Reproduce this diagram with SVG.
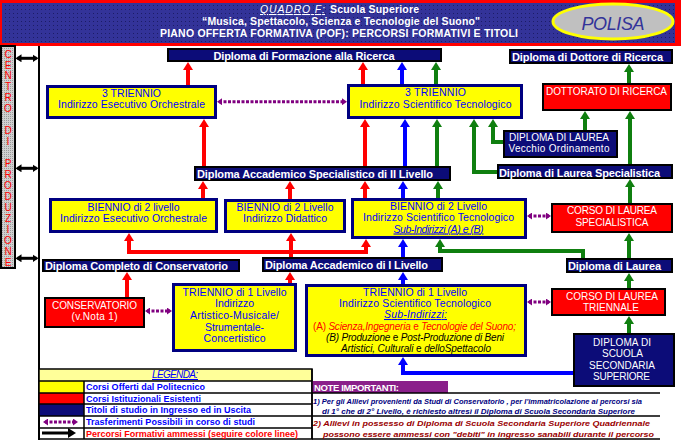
<svg xmlns="http://www.w3.org/2000/svg" width="681" height="441" viewBox="0 0 681 441">
<defs>
<pattern id="hdots" width="4" height="4" patternUnits="userSpaceOnUse"><rect width="4" height="4" fill="#333399"/><rect x="1" y="1" width="1" height="1" fill="#1c1c66"/></pattern>
<pattern id="gdots" width="2" height="2" patternUnits="userSpaceOnUse"><rect width="2" height="2" fill="#d0d0d0"/><rect width="1" height="1" fill="#9a9a9a"/></pattern>
<marker id="aR" viewBox="0 0 8 10" refX="2" refY="5" markerWidth="8" markerHeight="10" markerUnits="userSpaceOnUse" orient="auto"><path d="M0,0L8,5L0,10z" fill="#f00"/></marker>
<marker id="aB" viewBox="0 0 8 10" refX="2" refY="5" markerWidth="8" markerHeight="10" markerUnits="userSpaceOnUse" orient="auto"><path d="M0,0L8,5L0,10z" fill="#00f"/></marker>
<marker id="aG" viewBox="0 0 8 10" refX="2" refY="5" markerWidth="8" markerHeight="10" markerUnits="userSpaceOnUse" orient="auto"><path d="M0,0L8,5L0,10z" fill="#0f7f0f"/></marker>
<marker id="aKL" viewBox="0 0 8 10" refX="2" refY="5" markerWidth="8" markerHeight="10" markerUnits="userSpaceOnUse" orient="auto"><path d="M0,0L8,5L0,10z" fill="#000"/></marker>
<marker id="aK" viewBox="0 0 6 8" refX="4" refY="4" markerWidth="6" markerHeight="8" markerUnits="userSpaceOnUse" orient="auto-start-reverse"><path d="M0,0L6,4L0,8z" fill="#000"/></marker>
<marker id="aP" viewBox="0 0 5 7" refX="3" refY="3.5" markerWidth="5" markerHeight="7" markerUnits="userSpaceOnUse" orient="auto-start-reverse"><path d="M0,0L5,3.5L0,7z" fill="#800080"/></marker>
</defs>
<style>
text{font-family:"Liberation Sans",Arial,sans-serif}
.nv{fill:#0c0c78;stroke:#000;stroke-width:2}
.yl{fill:#ff0;stroke:#000080;stroke-width:3}
.rd{fill:#f00;stroke:#000;stroke-width:2}
.tn{font-size:11px;font-weight:bold;fill:#fff}
.ty{font-size:10.5px;fill:#00f;text-anchor:middle}
.tw{font-size:10px;fill:#fff;text-anchor:middle}
.hd{font-size:10.5px;font-weight:bold;fill:#fff;text-anchor:middle}
.it{font-style:italic}
.ul{text-decoration:underline}
.cr{fill:none;stroke:#f00;stroke-width:4;marker-end:url(#aR)}
.crn{fill:none;stroke:#f00;stroke-width:4}
.cb{fill:none;stroke:#00f;stroke-width:4;marker-end:url(#aB)}
.cg{fill:none;stroke:#0f7f0f;stroke-width:4;marker-end:url(#aG)}
.cp{fill:none;stroke:#800080;stroke-width:3;stroke-dasharray:3 1.5;marker-start:url(#aP);marker-end:url(#aP)}
.ck{fill:none;stroke:#000;stroke-width:3;marker-start:url(#aK);marker-end:url(#aK)}
.cz{font-size:10px;fill:#f00;text-anchor:middle}
.lt{font-size:9px;font-weight:bold;fill:#00f}
.nt{font-size:8px;font-weight:bold;font-style:italic}
.tl{stroke:#000;stroke-width:1.5;fill:none}
</style>
<rect width="681" height="441" fill="#fff"/>

<g id="header">
<rect x="0" y="0" width="681" height="46" fill="#f00"/>
<rect x="2" y="3" width="673" height="40" fill="url(#hdots)"/>
<text x="260" y="13" font-size="10.5" fill="#fff" font-style="italic" text-decoration="underline" textLength="65">QUADRO F:</text>
<text x="330" y="13" font-size="10.5" font-weight="bold" fill="#fff" textLength="89">Scuola Superiore</text>
<text class="hd" x="341" y="25" textLength="278">“Musica, Spettacolo, Scienza e Tecnologie del Suono"</text>
<text class="hd" x="339" y="37" textLength="358">PIANO OFFERTA FORMATIVA (POF): PERCORSI FORMATIVI E TITOLI</text>
<ellipse cx="613" cy="21.5" rx="60" ry="17.5" fill="#c0c0c0" stroke="#ff0" stroke-width="3"/>
<text x="613" y="30" font-family="'Liberation Serif','Times New Roman',serif" font-style="italic" font-size="18" fill="#333399" text-anchor="middle" textLength="63">POLISA</text>
</g>

<g id="centro">
<rect x="1" y="46" width="14" height="222" fill="url(#gdots)" stroke="#000" stroke-width="2"/>
<text class="cz" x="8" y="57.5">C</text>
<text class="cz" x="8" y="68.5">E</text>
<text class="cz" x="8" y="79.4">N</text>
<text class="cz" x="8" y="90.4">T</text>
<text class="cz" x="8" y="101.4">R</text>
<text class="cz" x="8" y="112.4">O</text>
<text class="cz" x="8" y="134.3">D</text>
<text class="cz" x="8" y="145.3">I</text>
<text class="cz" x="8" y="167.2">P</text>
<text class="cz" x="8" y="178.2">R</text>
<text class="cz" x="8" y="189.2">O</text>
<text class="cz" x="8" y="200.1">D</text>
<text class="cz" x="8" y="211.1">U</text>
<text class="cz" x="8" y="222.1">Z</text>
<text class="cz" x="8" y="233">I</text>
<text class="cz" x="8" y="244">O</text>
<text class="cz" x="8" y="255">N</text>
<text class="cz" x="8" y="265.9">E</text>
</g>

<g id="connectors">
<path d="M39,46V440" stroke="#000" stroke-width="2" fill="none"/>
<path class="ck" d="M17.5,58.3H36.5"/>
<path class="ck" d="M17.5,168.3H36.5"/>
<path class="ck" d="M17.5,258.3H36.5"/>
<path class="crn" d="M127,252H368"/>
<path class="cr" d="M188,85V68"/>
<path class="cr" d="M363,84V68"/>
<path class="cr" d="M204,166V125"/>
<path class="cr" d="M365,166V125"/>
<path class="cr" d="M203,198V187"/>
<path class="cr" d="M290,199V187"/>
<path class="cr" d="M365,198V187"/>
<path class="cr" d="M129,252V239"/>
<path class="cr" d="M291,257V239"/>
<path class="cr" d="M366,252V245"/>
<path class="cr" d="M127,297V278"/>
<path class="cr" d="M290,283V278"/>
<path class="cb" d="M402,84V68"/>
<path class="cb" d="M405,166V125"/>
<path class="cb" d="M403,198V187"/>
<path class="cb" d="M403,257V245"/>
<path class="cb" d="M403,284V278"/>
<path class="cb" d="M573,373H403V363"/>
<path class="cg" d="M436,84V68"/>
<path class="cg" d="M629,83V70"/>
<path class="cg" d="M437,166V125"/>
<path class="cg" d="M497,172H474V125"/>
<path class="cg" d="M503,142H493V125"/>
<path class="cg" d="M585,130V117"/>
<path class="cg" d="M630,164V117"/>
<path class="cg" d="M438,198V187"/>
<path class="cg" d="M630,203V185"/>
<path class="cg" d="M583,258V251H440V245"/>
<path class="cg" d="M629,258V239"/>
<path class="cg" d="M629,288V279"/>
<path class="cg" d="M629,333V322"/>
<path class="cp" d="M219,101.7H345"/>
<path class="cp" d="M529,216H549"/>
<path class="cp" d="M147,311H170"/>
<path class="cp" d="M529,302H549"/>
</g>

<g id="n-formazione"><rect class="nv" x="168" y="49" width="273" height="12"/><text class="tn" x="304" y="59.5" text-anchor="middle" textLength="181">Diploma di Formazione alla Ricerca</text></g>
<g id="n-dottore"><rect class="nv" x="510" y="50" width="162" height="13"/><text class="tn" x="512" y="60.5" textLength="151">Diploma di Dottore di Ricerca</text></g>

<g id="n-3triennio-eo"><rect class="yl" x="47.5" y="86.5" width="168" height="31"/><text class="ty" x="131.5" y="97" textLength="59">3 TRIENNIO</text><text class="ty" x="131.5" y="108.3" textLength="147">Indirizzo Esecutivo Orchestrale</text></g>
<g id="n-3triennio-st"><rect class="yl" x="348.5" y="85.5" width="173" height="32"/><text class="ty" x="435.5" y="95.5" textLength="61">3 TRIENNIO</text><text class="ty" x="435.5" y="108" textLength="152">Indirizzo Scientifico Tecnologico</text></g>
<g id="n-dottorato"><rect class="rd" x="543" y="84" width="128" height="26"/><text class="tw" x="606.5" y="95" textLength="121">DOTTORATO DI RICERCA</text></g>
<g id="n-vecchio"><rect class="nv" x="504" y="131" width="113" height="26"/><text class="tw" x="559" y="140.7" textLength="100">DIPLOMA DI LAUREA</text><text class="tw" x="559" y="152" textLength="101">Vecchio Ordinamento</text></g>
<g id="n-accspec"><rect class="nv" x="195" y="167" width="255" height="13"/><text class="tn" x="197" y="177.5" textLength="236">Diploma Accademico Specialistico di II Livello</text></g>
<g id="n-laureaspec"><rect class="nv" x="498" y="165" width="174" height="13"/><text class="tn" x="499" y="176.5" textLength="161">Diploma di Laurea Specialistica</text></g>

<g id="n-biennio-eo"><rect class="yl" x="50.5" y="199.5" width="166" height="32"/><text class="ty" x="133.5" y="210.5" textLength="92">BIENNIO di 2 livello</text><text class="ty" x="133.5" y="222" textLength="147">Indirizzo Esecutivo Orchestrale</text></g>
<g id="n-biennio-did"><rect class="yl" x="225.5" y="200.5" width="119" height="31"/><text class="ty" x="285" y="210.5" textLength="97">BIENNIO di 2 Livello</text><text class="ty" x="285" y="222" textLength="84">Indirizzo Didattico</text></g>
<g id="n-biennio-st"><rect class="yl" x="352.5" y="199.5" width="173" height="38"/><text class="ty" x="438.5" y="209.5" textLength="97">BIENNIO di 2 Livello</text><text class="ty" x="438.5" y="221.3" textLength="151">Indirizzo Scientifico Tecnologico</text><text class="ty it ul" x="438.5" y="232.5" textLength="90">Sub-Indirizzi (A) e (B)</text></g>
<g id="n-corso-ls"><rect class="rd" x="552" y="204" width="120" height="28"/><text class="tw" x="612" y="214" textLength="90">CORSO DI LAUREA</text><text class="tw" x="612" y="226" textLength="73">SPECIALISTICA</text></g>

<g id="n-completo"><rect class="nv" x="43" y="260" width="196" height="11"/><text class="tn" x="45" y="269.5" textLength="183">Diploma Completo di Conservatorio</text></g>
<g id="n-acc1"><rect class="nv" x="263" y="258" width="179" height="13"/><text class="tn" x="265" y="268.5" textLength="163">Diploma Accademico di I Livello</text></g>
<g id="n-laurea"><rect class="nv" x="567" y="259" width="105" height="13"/><text class="tn" x="568" y="270" textLength="93">Diploma di Laurea</text></g>

<g id="n-conservatorio"><rect class="rd" x="45" y="298" width="99" height="29"/><text class="tw" x="94.5" y="309.3" textLength="85">CONSERVATORIO</text><text class="tw" x="94.5" y="320" textLength="46">(v.Nota 1)</text></g>
<g id="n-triennio-am"><rect class="yl" x="173.5" y="284.5" width="122" height="66"/><text class="ty" x="234.5" y="296" textLength="104">TRIENNIO di 1 Livello</text><text class="ty" x="234.5" y="307.3" textLength="39">Indirizzo</text><text class="ty" x="234.5" y="319" textLength="89">Artistico-Musicale/</text><text class="ty" x="234.5" y="330.5" textLength="59">Strumentale-</text><text class="ty" x="234.5" y="341.5" textLength="62">Concertistico</text></g>
<g id="n-triennio-st"><rect class="yl" x="306.5" y="285.5" width="219" height="70"/><text class="ty" x="415" y="295.5" textLength="104">TRIENNIO di 1 Livello</text><text class="ty" x="415" y="306.5" textLength="152">Indirizzo Scientifico Tecnologico</text><text class="ty it ul" x="415.5" y="318" textLength="63">Sub-Indirizzi:</text><text x="313" y="329.5" font-size="10" fill="#f00" textLength="203">(A) <tspan font-style="italic">Scienza,Ingegneria</tspan> e <tspan font-style="italic">Tecnologie del Suono;</tspan></text><text x="326" y="340.5" font-size="10" fill="#000" textLength="178"><tspan font-style="italic">(B) Produzione</tspan> e <tspan font-style="italic">Post-Produzione di Beni</tspan></text><text x="341" y="351.5" font-size="10" fill="#000" textLength="150"><tspan font-style="italic">Artistici, Culturali</tspan> e <tspan font-style="italic">delloSpettacolo</tspan></text></g>
<g id="n-corso-lt"><rect class="rd" x="552" y="289" width="113" height="26"/><text class="tw" x="612" y="300" textLength="92">CORSO DI LAUREA</text><text class="tw" x="611" y="311" textLength="56">TRIENNALE</text></g>
<g id="n-sss"><rect class="nv" x="574" y="334" width="100" height="52"/><text class="tw" x="622" y="345.7" textLength="58">DIPLOMA DI</text><text class="tw" x="622.5" y="356.7" textLength="41">SCUOLA</text><text class="tw" x="622" y="369" textLength="66">SECONDARIA</text><text class="tw" x="621.5" y="380" textLength="57">SUPERIORE</text></g>

<g id="legenda">
<rect x="39" y="369" width="273" height="12" fill="#ffff99"/>
<rect x="39" y="381" width="45" height="12" fill="#ff0"/>
<rect x="39" y="393" width="45" height="11" fill="#f00"/>
<rect x="39" y="404" width="45" height="12" fill="#0c0c78"/>
<rect class="tl" x="39" y="369" width="273" height="70"/>
<path class="tl" d="M39,381H312M39,393H312M39,404H312M39,416H312M39,428H312M84,381V439"/>
<path class="cp" d="M45,422H76"/>
<path d="M42,433H70" fill="none" stroke="#000" stroke-width="3" marker-end="url(#aKL)"/>
<text x="175" y="378" font-size="10" fill="#00f" font-style="italic" text-decoration="underline" text-anchor="middle" textLength="46">LEGENDA:</text>
<text class="lt" x="86" y="390" textLength="119">Corsi Offerti dal Politecnico</text>
<text class="lt" x="86" y="401.5" textLength="115">Corsi Istituzionali Esistenti</text>
<text class="lt" x="86" y="413" textLength="165">Titoli di studio in Ingresso ed in Uscita</text>
<text class="lt" x="86" y="425" textLength="169">Trasferimenti Possibili in corso di studi</text>
<text class="lt" x="86" y="436.5" fill="#f00" style="fill:#f00" textLength="212">Percorsi Formativi ammessi (seguire colore linee)</text>
</g>

<g id="note">
<rect x="312" y="381" width="136" height="12" fill="#8a1f8a"/>
<text x="314" y="390.5" font-size="9.5" font-weight="bold" fill="#fff" textLength="85">NOTE IMPORTANTI:</text>
<path class="tl" d="M312,393H660M312,416H660M312,439H660M312,369V439"/>
<text class="nt" x="313" y="403.5" fill="#000080" textLength="329" lengthAdjust="spacingAndGlyphs">1) Per gli Allievi provenienti da Studi di Conservatorio , per l'immatricolazione ai percorsi sia</text>
<text class="nt" x="322" y="413.5" fill="#000080" textLength="313" lengthAdjust="spacingAndGlyphs">di 1° che di 2° Livello, è richiesto altresì il Diploma di Scuola Secondaria Superiore</text>
<text class="nt" x="313" y="426" fill="#990000" textLength="337" lengthAdjust="spacingAndGlyphs">2) Allievi in possesso di Diploma di Scuola Secondaria Superiore Quadriennale</text>
<text class="nt" x="323" y="436.5" fill="#990000" textLength="331" lengthAdjust="spacingAndGlyphs">possono essere ammessi con "debiti" in ingresso sanabili durante il percorso</text>
</g>
</svg>
